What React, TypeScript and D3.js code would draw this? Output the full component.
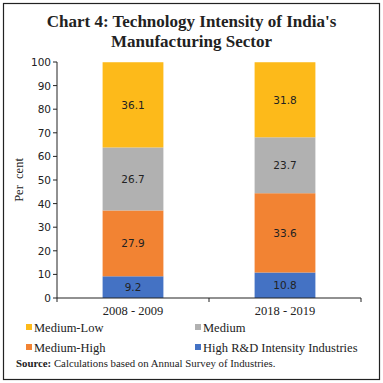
import React from "react";
import * as d3 from "d3";

const categories = ["2008 - 2009", "2018 - 2019"];
const seriesNames = ["High R&D Intensity Industries", "Medium-High", "Medium", "Medium-Low"];
const highRD = [9.2, 10.8];
const mediumHigh = [27.9, 33.6];
const medium = [26.7, 23.7];
const mediumLow = [36.1, 31.8];
const yTicks = [0, 10, 20, 30, 40, 50, 60, 70, 80, 90, 100];
const colors = ["#4472C4", "#F28333", "#B1B1B1", "#FDBA1A"];

export default function App() {
  const W = 383, H = 383;
  const left = 57, right = 361, top = 62, bottom = 298;
  const x = d3.scaleBand().domain(categories).range([left, right]).paddingInner(0.6).paddingOuter(0.3);
  const y = d3.scaleLinear().domain([0, 100]).range([bottom, top]);
  const rows = categories.map((c, i) => ({
    cat: c,
    s0: highRD[i], s1: mediumHigh[i], s2: medium[i], s3: mediumLow[i],
  }));
  const stack = d3.stack<any>().keys(["s0", "s1", "s2", "s3"])(rows);
  const serif = "'Liberation Serif', 'DejaVu Serif', serif";
  const sans = "'DejaVu Sans', Verdana, sans-serif";
  const legendItems = [
    { name: seriesNames[3], idx: 3, x: 26, y: 332 },
    { name: seriesNames[2], idx: 2, x: 195, y: 332 },
    { name: seriesNames[1], idx: 1, x: 26, y: 352 },
    { name: seriesNames[0], idx: 0, x: 195, y: 352 },
  ];
  const mid = (left + right) / 2;
  return (
    <svg width={W} height={H} style={{ position: "absolute", left: 0, top: 0, background: "#fff" }}>
      <rect x={3.5} y={3.5} width={376} height={376} fill="#fff" stroke="#222" strokeWidth={1.2} />
      <text x={W / 2} y={27} textAnchor="middle" fontFamily={serif} fontWeight="bold" fontSize={17} fill="#222">
        Chart 4: Technology Intensity of India's
      </text>
      <text x={W / 2} y={47} textAnchor="middle" fontFamily={serif} fontWeight="bold" fontSize={17} fill="#222">
        Manufacturing Sector
      </text>
      {stack.map((s, si) =>
        s.map((d: any, i: number) => {
          const y0 = y(d[0]), y1 = y(d[1]);
          const bx = x(categories[i])!;
          return (
            <g key={si + "-" + i}>
              <rect x={bx} y={y1} width={x.bandwidth()} height={y0 - y1} fill={colors[si]} />
              <text x={bx + x.bandwidth() / 2} y={(y0 + y1) / 2 + 4} textAnchor="middle" fontFamily={sans} fontSize={10.5} fill="#222">
                {(d[1] - d[0]).toFixed(1)}
              </text>
            </g>
          );
        })
      )}
      <line x1={left} x2={left} y1={top} y2={bottom} stroke="#222" />
      {yTicks.map((t) => (
        <g key={t}>
          <line x1={left - 4} x2={left} y1={y(t)} y2={y(t)} stroke="#222" />
          <text x={left - 6} y={y(t) + 4} textAnchor="end" fontFamily={sans} fontSize={10.5} fill="#222">{t}</text>
        </g>
      ))}
      <line x1={left} x2={right} y1={bottom} y2={bottom} stroke="#222" />
      {[left, mid, right].map((tx, i) => (
        <line key={i} x1={tx} x2={tx} y1={bottom} y2={bottom + 4} stroke="#222" />
      ))}
      {categories.map((c) => (
        <text key={c} x={x(c)! + x.bandwidth() / 2} y={315} textAnchor="middle" fontFamily={serif} fontSize={12.5} fill="#222">{c}</text>
      ))}
      <text transform={`translate(23,${(top + bottom) / 2}) rotate(-90)`} textAnchor="middle" fontFamily={serif} fontSize={12.5} fill="#222">{"Per\u00A0\u00A0cent"}</text>
      {legendItems.map((l) => (
        <g key={l.name}>
          <rect x={l.x} y={l.y - 8} width={6} height={6} fill={colors[l.idx]} />
          <text x={l.x + 8} y={l.y} fontFamily={serif} fontSize={12.5} fill="#222">{l.name}</text>
        </g>
      ))}
      <text x={16} y={367} fontFamily={serif} fontSize={10.8} fill="#222">
        <tspan fontWeight="bold">Source: </tspan>Calculations based on Annual Survey of Industries.
      </text>
    </svg>
  );
}
